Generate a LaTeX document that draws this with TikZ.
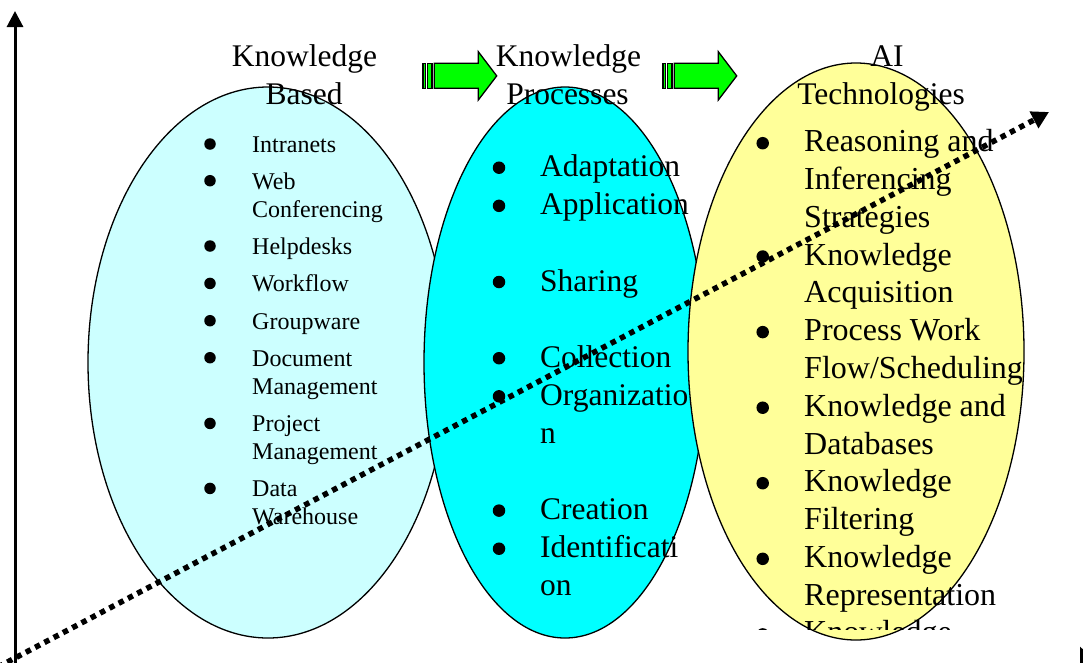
\documentclass[tikz,border=0pt]{standalone}
\usepackage{fontspec}
\setmainfont{Liberation Serif}
\usetikzlibrary{arrows.meta,shapes.geometric}
\definecolor{lcyan}{HTML}{CCFFFF}
\definecolor{mcyan}{HTML}{00FFFF}
\definecolor{lyellow}{HTML}{FFFF99}
\definecolor{agreen}{HTML}{00FF00}
\begin{document}
\begin{tikzpicture}[x=1pt,y=-1pt,
  ell/.style={ellipse,draw=black,line width=1.3pt,inner sep=0pt},
  ltxt/.style={anchor=base west,inner sep=0pt,font=\fontsize{24}{28}\selectfont},
  mtxt/.style={anchor=base west,inner sep=0pt,font=\fontsize{31.5}{38}\selectfont},
  rtxt/.style={anchor=base west,inner sep=0pt,font=\fontsize{32}{38}\selectfont},
  ttl/.style={anchor=base,inner sep=0pt,font=\fontsize{31.5}{37}\selectfont},
  bul/.style={circle,fill=black,inner sep=0pt,minimum size=#1},
  bul/.default=12.5pt,
  axisline/.style={line width=3pt,-{Triangle[length=16pt,width=16pt]}},
  dotline/.style={line width=5.5pt,dash pattern=on 5.5pt off 5pt,-{Triangle[length=17pt,width=18pt]}},
  garrow/.style={draw=black,line width=1.3pt,fill=agreen,line join=miter},
]
\useasboundingbox (0,0) rectangle (1083,662);
\clip (0,0) rectangle (1083,662);
\fill[white] (0,0) rectangle (1083,662);

% ellipses
\node[ell,fill=lcyan,minimum width=360pt,minimum height=551pt] (e1) at (268,362.5) {};
\node[ell,fill=mcyan,minimum width=282pt,minimum height=551pt] (e2) at (565,362.5) {};
\node[ell,fill=lyellow,minimum width=336pt,minimum height=577pt] (e3) at (856,351.5) {};

% block arrows
\foreach \dx in {0,240}{
  \begin{scope}[xshift=\dx pt]
    \path[garrow] (423,63.3) rectangle (425.5,88.3);
    \path[garrow] (427.8,63.3) rectangle (432,88.3);
    \path[garrow] (434.3,63.3) -- (478.3,63.3) -- (478.3,51.7) -- (496.7,75.9)
      -- (478.3,100) -- (478.3,88.3) -- (434.3,88.3) -- cycle;
  \end{scope}
}

% titles
\node[ttl] (t1a) at (304.5,66.7) {Knowledge};
\node[ttl] (t1b) at (304,104) {Based};
\node[ttl] (t2a) at (568.5,66.7) {Knowledge};
\node[ttl] (t2b) at (567.5,104) {Processes};
\node[ttl] (t3a) at (887,66.7) {AI};
\node[ttl] (t3b) at (881,104) {Technologies};

% left list
\foreach \y/\t [count=\i] in {152.3/Intranets,189/Web,217/Conferencing,254.3/Helpdesks,
  291.7/Workflow,329/Groupware,366/Document,394/Management,431.7/Project,
  459.5/Management,496.7/Data,524.5/Warehouse}
  \node[ltxt] (l\i) at (252,\y) {\t};
\foreach \y [count=\i] in {152.3,189,254.3,291.7,329,366,431.7,496.7}
  \node[bul=11.5pt] (lb\i) at (210,{\y-8.3}) {};

% middle list
\foreach \y/\t [count=\i] in {176.7/Adaptation,214.8/Application,291/Sharing,
  367.2/Collection,405.3/Organizatio,443.4/n,519.6/Creation,557.7/Identificati,595.8/on}
  \node[mtxt] (m\i) at (540,\y) {\t};
\foreach \y [count=\i] in {176.7,214.8,291,367.2,405.3,519.6,557.7}
  \node[bul] (mb\i) at (499,{\y-9}) {};

% right list
\foreach \y/\t [count=\i] in {151.7/Reasoning and,189.5/Inferencing,227.3/Strategies,
  265/Knowledge,302.8/Acquisition,340.6/Process Work,
  416.2/Knowledge and,454/Databases,491.7/Knowledge,529.5/Filtering,
  567.3/Knowledge,605.1/Representation}
  \node[rtxt] (r\i) at (804,\y) {\t};
\node[rtxt] (r13) at (804,378.4) {Flow/Scheduling};
\foreach \y [count=\i] in {151.7,265,340.6,416.2,491.7,567.3}
  \node[bul] (rb\i) at (762.7,{\y-8.5}) {};
\begin{scope}
  \clip (700,0) rectangle (1083,629);
  \node[rtxt] (r14) at (804,642.9) {Knowledge};
  \node[bul] (rb7) at (762.7,634.4) {};
\end{scope}

% axes
\coordinate (origin) at (15,665);
\coordinate (ytop) at (15,11);
\coordinate (xend) at (1100,665);
\draw[axisline] (origin) -- (ytop);
\draw[line width=3pt,-{Triangle[length=20pt,width=36pt]}] (origin) -- (xend);

% dotted trend arrow
\coordinate (dstart) at (-2,667);
\coordinate (dend) at (1049,112);
\draw[dotline] (dstart) -- (dend);
\end{tikzpicture}
\end{document}
